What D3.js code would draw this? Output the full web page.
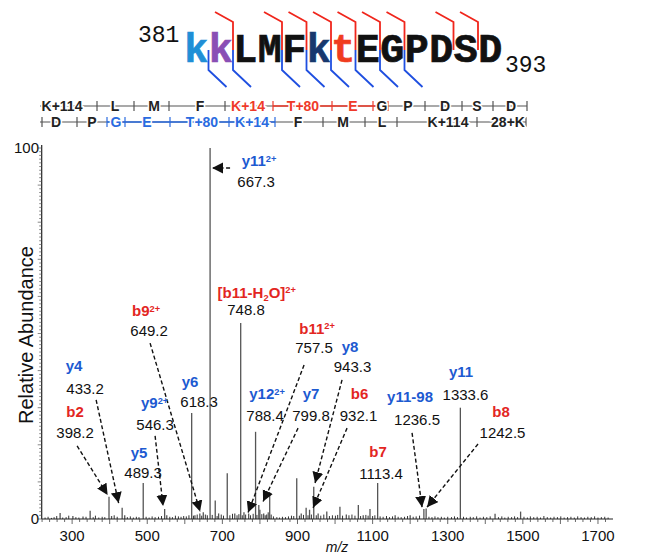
<!DOCTYPE html>
<html><head><meta charset="utf-8">
<script src="https://cdn.jsdelivr.net/npm/d3@7"></script>
<style>html,body{margin:0;padding:0;background:#fff;}svg{display:block;}</style>
</head><body>
<svg id="c" width="655" height="555"></svg>
<script>
// ---------- DATA ----------
const residues = ["k","k","L","M","F","k","t","E","G","P","D","S","D"];
const residueMods = ["me1","me2",null,null,null,"me3","phos",null,null,null,null,null,null];
const startNum = "381", endNum = "393";
const bCuts = [2,4,5,6,7,8,9,11,12];
const yCuts = [1,2,4,5,6,7,8,9];

const ladderTop = ["K+114","L","M","F","K+14","T+80","E","G","P","D","S","D"];
const ladderTopHi = [4,5,6];
const ladderBottom = ["D","P","G","E","T+80","K+14","F","M","L","K+114","28+K"];
const ladderBottomHi = [2,3,4,5];

// major peaks [m/z, relative abundance]
const peakMz = [268,302,329,348,398.2,405,433.2,440,489.3,546.3,552,618.3,627,640,649.2,655,667.3,681,690,713,733,748.8,757.5,770,788.4,797,799.8,810,818,826,898,910,923,932.1,943.3,955,978,1013,1030,1062,1075,1093,1113.4,1160,1200,1236.5,1242.5,1333.6,1426,1494];
const peakInt = [1.6,0.8,0.7,2.2,6.0,0.8,3.0,1.0,9.7,2.7,1.0,28.6,1.0,1.5,1.8,1.2,100,5.0,1.5,12.3,1.5,52.8,1.8,1.5,23.5,3.8,2.5,1.5,1.2,7.3,11.0,1.5,3.0,2.5,8.7,1.5,2.0,3.3,1.2,3.8,1.0,2.7,9.7,1.0,1.0,2.7,2.8,30.0,1.4,2.0];
// baseline noise [m/z, relative abundance]
const noiseMz = [228,236,245,252,259,275,284,291,310,318,337,356,362,371,380,387,412,420,447,455,463,471,478,497,505,513,521,530,538,560,567,575,583,590,597,604,611,623,633,645,660,673,686,697,703,720,727,739,744,753,762,775,782,792,805,814,822,830,836,845,852,860,868,876,884,890,905,916,928,937,950,962,970,985,993,1001,1007,1020,1037,1045,1053,1068,1082,1088,1100,1106,1120,1128,1137,1145,1153,1168,1176,1185,1193,1208,1216,1225,1250,1258,1266,1274,1283,1291,1300,1310,1318,1326,1342,1350,1360,1368,1377,1386,1395,1404,1413,1435,1444,1452,1461,1470,1478,1486,1503,1512,1520,1529,1538,1547,1556,1565,1574,1583,1592,1601,1610,1619,1628,1637,1646,1655,1664,1673,1682,1691,1700,1709,1718,1727];
const noiseInt = [0.4,0.6,0.3,0.5,0.8,0.4,0.5,0.9,0.5,0.4,0.6,0.5,0.9,0.4,0.6,0.5,1.0,0.6,0.5,0.7,0.4,0.6,0.5,0.6,0.4,0.7,0.5,0.6,0.8,0.6,0.5,0.9,0.7,0.6,0.8,0.7,1.0,0.9,1.2,0.9,1.0,1.1,0.8,1.2,0.9,1.0,1.4,1.0,1.3,1.0,1.2,1.0,1.4,1.1,1.3,1.0,1.8,1.2,0.7,0.5,0.4,0.6,0.5,0.7,0.9,0.8,0.9,1.1,1.0,1.2,1.0,0.9,1.2,0.8,1.0,0.9,1.1,0.9,1.0,1.2,0.9,0.8,1.1,0.9,0.8,1.0,0.7,0.6,0.8,0.5,0.7,0.6,0.5,0.6,0.8,0.6,0.7,0.9,0.6,0.5,0.7,0.5,0.6,0.4,0.6,0.5,0.7,0.5,0.6,0.4,0.6,0.5,0.7,0.4,0.6,0.5,0.7,0.5,0.7,0.4,0.6,0.5,0.7,0.5,0.6,0.4,0.7,0.5,0.6,0.4,0.8,0.5,0.4,0.6,0.5,0.7,0.4,0.5,0.6,0.4,0.7,0.5,0.4,0.6,0.5,0.7,0.4,0.5,0.6,0.4];

const xTickValues = [300,500,700,900,1100,1300,1500,1700];
const yTickValues = [0,100];

// annotations
const ionNames = ["y11^{2+}","[b11-H_{2}O]^{2+}","b9^{2+}","b11^{2+}","y8","y4","y6","y12^{2+}","y7","b6","y11-98","y11","b8","b7","y5","b2","y9^{2+}"];
const ionValues = ["667.3","748.8","649.2","757.5","943.3","433.2","618.3","788.4","799.8","932.1","1236.5","1333.6","1242.5","1113.4","489.3","398.2","546.3"];
// label anchor points in data space [m/z, abundance]
const ionNamePos = [[797.7,95.1],[791.6,59.7],[497,54.7],[952.1,49.9],[1040,45.0],[305.3,39.9],[614.1,35.6],[819,32.3],[936.1,32.3],[1065.2,32.3],[1199.7,31.5],[1335.4,38.3],[1441.9,27.5],[1114.5,16.7],[478.3,16.4],[308,27.5],[519.6,29.9]];
const ionValuePos = [[789.8,89.5],[763.1,55.1],[505,49.3],[944.1,44.7],[1046.6,39.6],[334.6,33.7],[638,30.2],[813.7,26.4],[936.1,26.4],[1062.6,26.5],[1218.3,25.3],[1347.4,32.1],[1445.9,21.8],[1122.5,10.8],[489,11.1],[308,21.8],[520.9,24.0]];
// arrows [fromMz, fromInt, toMz, toInt]
const arrows = [[720.5,94.6,672.6,94.6],[313.3,19.7,394.5,6.5],[363.9,32.1,423.8,4.3],[520.9,22.4,542.2,3.5],[507.6,47.4,640.7,2.0],[917.5,41.5,768.5,1.75],[901.5,24.5,808.4,4.7],[1018.6,37.5,946.8,9.7],[1032,24.5,941.5,3.0],[1205,23.2,1231.6,3.2],[1380.6,20.2,1244.9,3.2]];

// ---------- LAYOUT / STYLE ----------
const RED = "#e3261f", BLUE = "#1d5ad1";
const modColor = {me1:"#1f8fd6", me2:"#8a4fb5", me3:"#17386e", phos:"#f03c1e"};
const SANS = "'Liberation Sans', Arial, Helvetica, sans-serif";
const MONO = "'Liberation Mono', 'Courier New', monospace";
const ladderTopTicks = [97,134,169,225,273,332,373,388,425,462,493,527];
const ladderTopLabelX = [62,115,154,200,248,303,353,382,408,445,477,511];
const ladderBotTicks = [42,77,107,125,170,229,275,323,365,397,477,526];
const ladderBotLabelX = [56,92,116,147,202,252,298,343,382,448,508];

const svg = d3.select("#c");
const x = d3.scaleLinear().domain([219,1740]).range([41.7,613]);
const y = d3.scaleLinear().domain([0,100]).range([519,148]);

// ---------- PEPTIDE HEADER ----------
const seqX = d3.scaleBand().domain(d3.range(residues.length)).range([184,184+residues.length*24.5]);
const cutX = i => seqX.range()[0] + i*seqX.bandwidth();
const hdr = svg.append("g");
hdr.append("text").attr("x",138).attr("y",42).attr("font-family",MONO).attr("font-size",23).attr("fill","#111").text(startNum);
hdr.selectAll("text.res").data(residues).join("text").attr("class","res")
  .attr("x",(d,i)=>seqX(i)+seqX.bandwidth()/2).attr("y",61.5)
  .attr("text-anchor","middle").attr("font-family",MONO).attr("font-weight","bold").attr("font-size",40)
  .attr("fill",(d,i)=>residueMods[i]?modColor[residueMods[i]]:"#111")
  .attr("stroke",(d,i)=>residueMods[i]?modColor[residueMods[i]]:"#111").attr("stroke-width",0.7)
  .text(d=>d);
hdr.append("text").attr("x",505).attr("y",72).attr("font-family",MONO).attr("font-size",23).attr("fill","#111").text(endNum);
hdr.selectAll("path.b").data(bCuts).join("path").attr("class","b")
  .attr("d",c=>{const cx=cutX(c);return `M${cx-18},12 L${cx},22 L${cx},50`;})
  .attr("fill","none").attr("stroke","#f0261c").attr("stroke-width",1.8);
hdr.selectAll("path.y").data(yCuts).join("path").attr("class","y")
  .attr("d",c=>{const cx=cutX(c);return `M${cx},50 L${cx},70 L${cx+18},87`;})
  .attr("fill","none").attr("stroke","#1f4fe0").attr("stroke-width",1.8);

// ---------- LADDER ----------
function ladder(rowY, labels, labelX, ticks, hi, hiColor){
  const g = svg.append("g");
  const hiStart = ticks[Math.min(...hi)], hiEnd = ticks[Math.max(...hi)+1];
  g.append("line").attr("x1",Math.min(40,ticks[0])).attr("x2",ticks[ticks.length-1]).attr("y1",rowY).attr("y2",rowY).attr("stroke","#555").attr("stroke-width",1.2);
  g.append("line").attr("x1",hiStart).attr("x2",hiEnd).attr("y1",rowY).attr("y2",rowY).attr("stroke",hiColor).attr("stroke-width",1.4);
  g.selectAll("line.t").data(ticks).join("line").attr("class","t")
    .attr("x1",d=>d).attr("x2",d=>d).attr("y1",rowY-5).attr("y2",rowY+5)
    .attr("stroke",d=>(d>=hiStart&&d<=hiEnd)?hiColor:"#555").attr("stroke-width",1.2);
  g.selectAll("text").data(labels).join("text")
    .attr("x",(d,i)=>labelX[i]).attr("y",rowY+5).attr("text-anchor","middle")
    .attr("font-family",SANS).attr("font-weight","bold").attr("font-size",14)
    .attr("fill",(d,i)=>hi.includes(i)?hiColor:"#222")
    .attr("stroke","#fff").attr("stroke-width",3).attr("paint-order","stroke").text(d=>d);
}
ladder(106, ladderTop, ladderTopLabelX, ladderTopTicks, ladderTopHi, "#ef3a2a");
ladder(122, ladderBottom, ladderBotLabelX, ladderBotTicks, ladderBottomHi, "#2a6be0");

// ---------- SPECTRUM ----------
const noise = noiseMz.map((m,i)=>[m,noiseInt[i]]);
const peaks = peakMz.map((m,i)=>[m,peakInt[i]]);
svg.append("g").selectAll("line").data(noise).join("line")
  .attr("x1",d=>x(d[0])).attr("x2",d=>x(d[0])).attr("y1",y(0)).attr("y2",d=>y(d[1]))
  .attr("stroke","#333").attr("stroke-width",1);
svg.append("g").selectAll("line").data(peaks).join("line")
  .attr("x1",d=>x(d[0])).attr("x2",d=>x(d[0])).attr("y1",y(0)).attr("y2",d=>y(d[1]))
  .attr("stroke","#555").attr("stroke-width",1.3);

// axes
const xMinor = d3.range(220,1740,20);
const gx = svg.append("g");
gx.append("line").attr("x1",x.range()[0]).attr("x2",x.range()[1]).attr("y1",y(0)).attr("y2",y(0)).attr("stroke","#222").attr("stroke-width",1.2);
gx.selectAll("line.m").data(xMinor).join("line").attr("class","m")
  .attr("x1",d=>x(d)).attr("x2",d=>x(d)).attr("y1",y(0)).attr("y2",d=>y(0)+(d%100===0?5:3))
  .attr("stroke","#444").attr("stroke-width",0.8);
gx.selectAll("text").data(xTickValues).join("text")
  .attr("x",d=>x(d)).attr("y",541).attr("text-anchor","middle")
  .attr("font-family",SANS).attr("font-size",15).attr("fill","#111").text(d=>d);
const gy = svg.append("g");
gy.append("line").attr("x1",x.range()[0]).attr("x2",x.range()[0]).attr("y1",y(0)).attr("y2",y(100)-3).attr("stroke","#222").attr("stroke-width",1.2);
gy.selectAll("line.m").data(d3.range(0,101,1)).join("line").attr("class","m")
  .attr("x1",x.range()[0]).attr("x2",d=>x.range()[0]-(d%10===0?4:2.5)).attr("y1",d=>y(d)).attr("y2",d=>y(d))
  .attr("stroke","#555").attr("stroke-width",0.7);
gy.selectAll("text").data(yTickValues).join("text")
  .attr("x",39).attr("y",d=>y(d)+5).attr("text-anchor","end")
  .attr("font-family",SANS).attr("font-size",15).attr("fill","#111").text(d=>d);
svg.append("text").attr("transform","translate(33,335) rotate(-90)").attr("text-anchor","middle")
  .attr("font-family",SANS).attr("font-size",20).attr("fill","#111").text("Relative Abundance");
svg.append("text").attr("x",337).attr("y",552).attr("text-anchor","middle")
  .attr("font-family",SANS).attr("font-style","italic").attr("font-size",14).attr("fill","#111").text("m/z");

// arrows
svg.append("defs").append("marker").attr("id","ah").attr("markerUnits","userSpaceOnUse")
  .attr("markerWidth",12).attr("markerHeight",12).attr("refX",11).attr("refY",5.5).attr("orient","auto")
  .append("path").attr("d","M0,0 L11,5.5 L0,11 Z").attr("fill","#111");
svg.append("g").selectAll("line").data(arrows).join("line")
  .attr("x1",d=>x(d[0])).attr("y1",d=>y(d[1])).attr("x2",d=>x(d[2])).attr("y2",d=>y(d[3]))
  .attr("stroke","#111").attr("stroke-width",1.4).attr("stroke-dasharray","4,2.5").attr("marker-end","url(#ah)");

// labels
function rich(sel, str, size){
  const re = /(\^\{[^}]*\}|_\{[^}]*\}|[^\^_]+)/g;
  let m, shift = 0;
  while((m = re.exec(str))){
    const t = m[0];
    if(t[0]==="^"){
      sel.append("tspan").attr("font-size",size*0.62).attr("dy",-size*0.3).text(t.slice(2,-1));
      shift = size*0.3;
    } else if(t[0]==="_"){
      sel.append("tspan").attr("font-size",size*0.62).attr("dy",size*0.22).text(t.slice(2,-1));
      shift = -size*0.22;
    } else {
      sel.append("tspan").attr("dy",shift).text(t);
      shift = 0;
    }
  }
}
const ionColor = s => (s.replace("[","")[0]==="b") ? RED : BLUE;
const lab = svg.append("g");
ionNames.forEach((n,i)=>{
  const t = lab.append("text").attr("x",x(ionNamePos[i][0])).attr("y",y(ionNamePos[i][1]))
    .attr("text-anchor","middle").attr("font-family",SANS).attr("font-weight","bold").attr("font-size",15)
    .attr("fill",ionColor(n));
  rich(t,n,15);
  lab.append("text").attr("x",x(ionValuePos[i][0])).attr("y",y(ionValuePos[i][1]))
    .attr("text-anchor","middle").attr("font-family",SANS).attr("font-size",15).attr("fill","#111")
    .text(ionValues[i]);
});
</script>
</body></html>
